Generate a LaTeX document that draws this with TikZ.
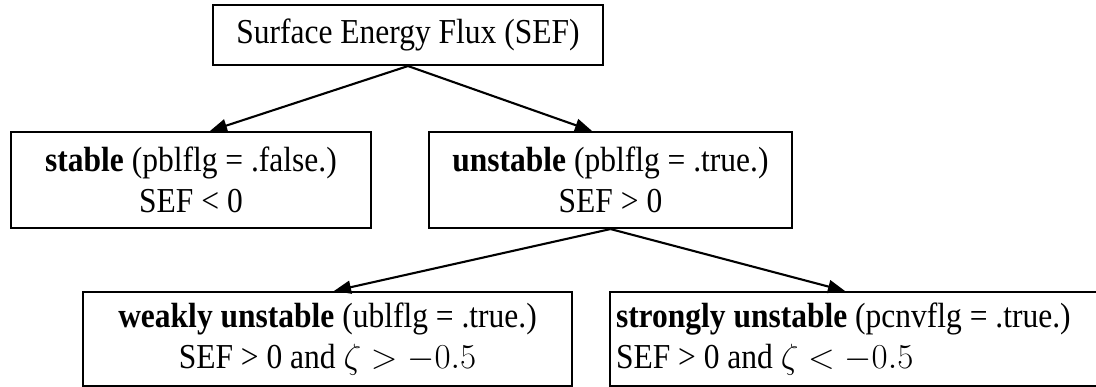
\documentclass[tikz,border=0pt]{standalone}
\usepackage{fix-cm}
\usepackage{fontspec}
\setmainfont[FakeStretch=0.9]{Liberation Serif}
\usetikzlibrary{arrows.meta}
\begin{document}
\begin{tikzpicture}[x=1pt,y=-1pt,
  box/.style={draw, line width=2.1pt, inner sep=0pt, align=center,
    font=\fontsize{35}{41}\selectfont},
  arr/.style={line width=2.1pt, -{Triangle[length=17pt,width=13pt]}}]
\useasboundingbox (0,0) rectangle (1096,387);
\clip (0,0) rectangle (1096,387);
\node[box, minimum width=390pt, minimum height=60pt] (sef) at (408,35)
  {Surface Energy Flux (SEF)};
\node[box, minimum width=360pt, minimum height=96pt] (stable) at (191,180)
  {\textbf{stable} (pblflg = .false.)\\SEF < 0};
\node[box, minimum width=363pt, minimum height=96pt] (unstable) at (610.5,180)
  {\textbf{unstable} (pblflg = .true.)\\SEF > 0};
\node[box, minimum width=489pt, minimum height=94pt] (weak) at (327.5,339)
  {\textbf{weakly unstable} (ublflg = .true.)\\SEF > 0 and $\zeta > -0.5$};
\node[box, text width=488pt, inner xsep=6pt, align=flush left, minimum height=94pt] (strong) at (860,339)
  {\textbf{strongly unstable} (pcnvflg = .true.)\\SEF > 0 and $\zeta < -0.5$};
\draw[arr] (sef.south) -- ([xshift=19pt]stable.north);
\draw[arr] (sef.south) -- ([xshift=-18.5pt]unstable.north);
\draw[arr] (unstable.south) -- ([xshift=6.5pt]weak.north);
\draw[arr] (unstable.south) -- ([xshift=-15pt]strong.north);
\end{tikzpicture}
\end{document}
